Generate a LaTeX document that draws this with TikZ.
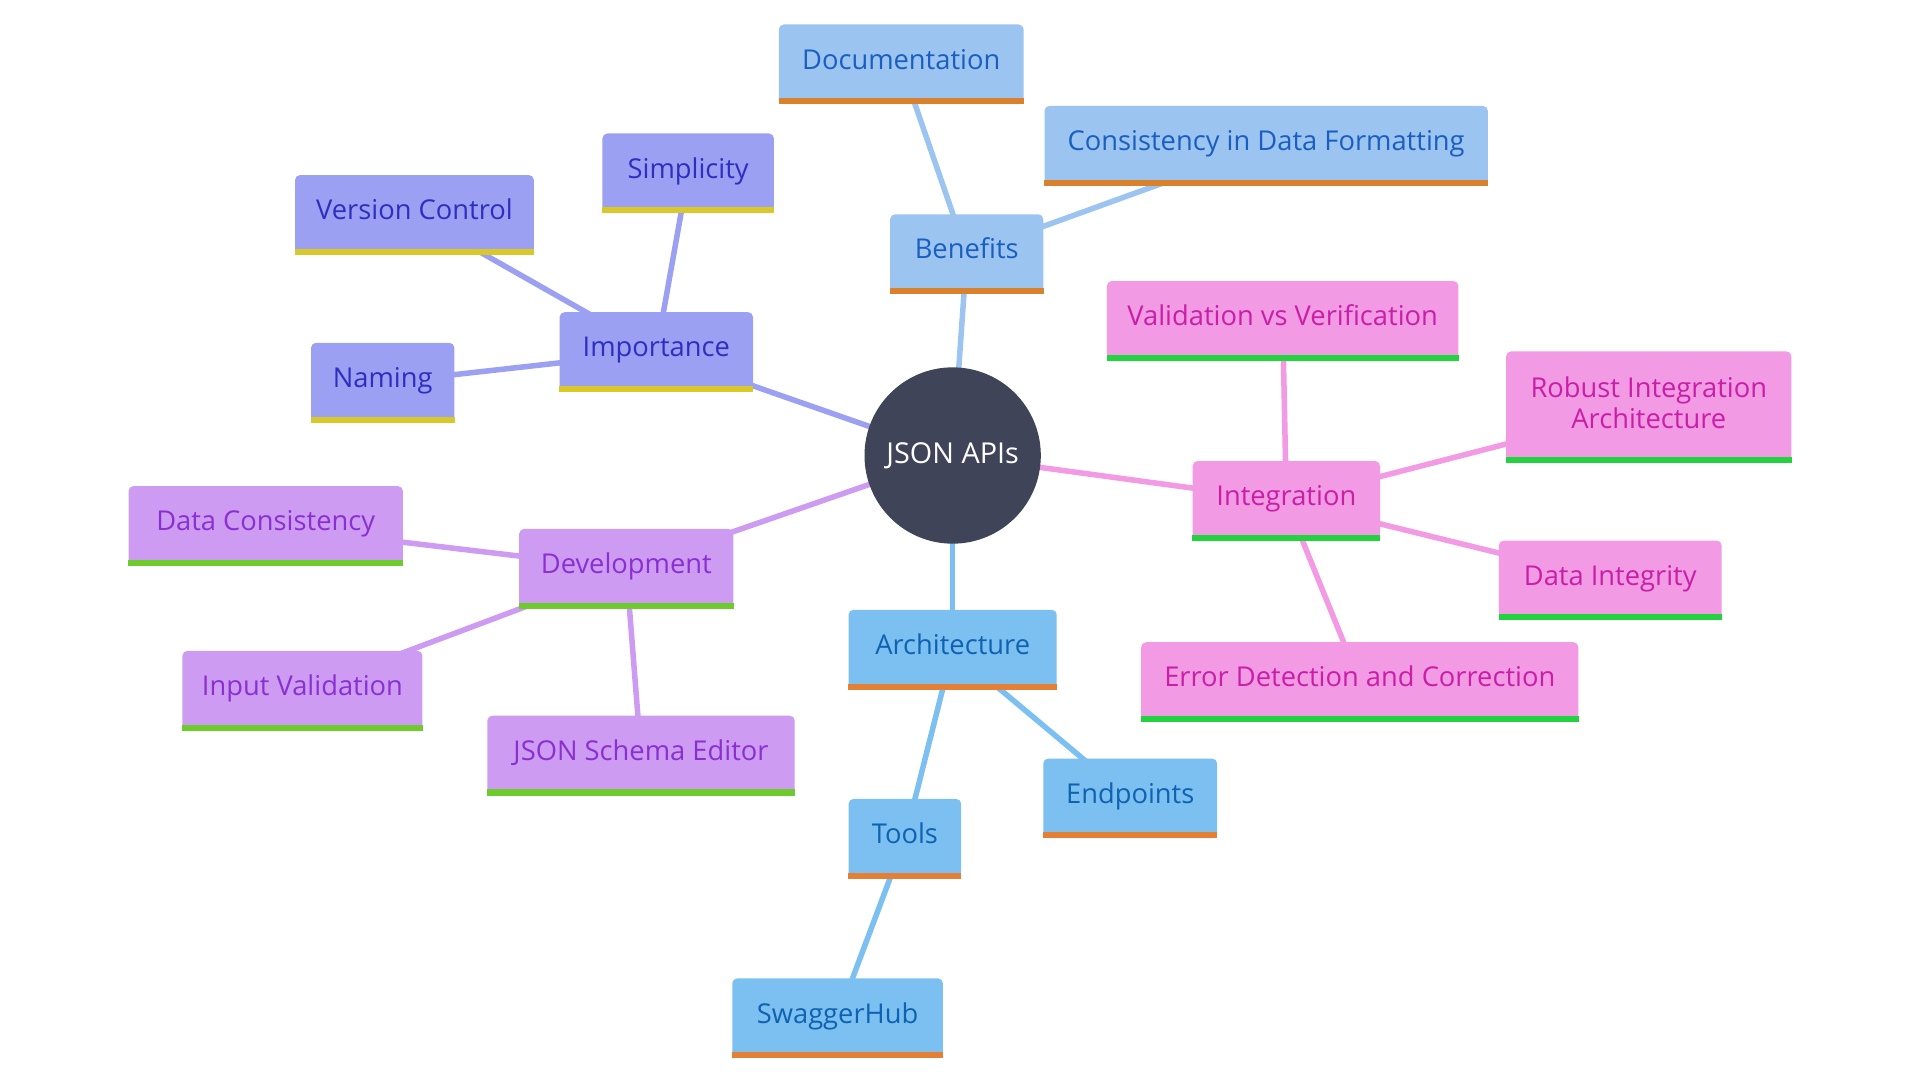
\documentclass[tikz,border=0pt]{standalone}
\usepackage{fontspec}
\setmainfont{Open Sans}
\usetikzlibrary{backgrounds}
\definecolor{cfill}{HTML}{404459}
\definecolor{benfill}{HTML}{9CC4F0}
\definecolor{bentext}{HTML}{1A5FC0}
\definecolor{benbar}{HTML}{D9822B}
\definecolor{impfill}{HTML}{9CA0F2}
\definecolor{imptext}{HTML}{2E2EBF}
\definecolor{impbar}{HTML}{D8C828}
\definecolor{devfill}{HTML}{CD9CF2}
\definecolor{devtext}{HTML}{8A2FD0}
\definecolor{devbar}{HTML}{6DCB2C}
\definecolor{archfill}{HTML}{7CC0F2}
\definecolor{archtext}{HTML}{0F62B0}
\definecolor{archbar}{HTML}{E57F33}
\definecolor{intfill}{HTML}{F29AE3}
\definecolor{inttext}{HTML}{C81FA8}
\definecolor{intbar}{HTML}{22D33F}
\newcommand\nbar[2]{\fill[#2] (#1.south west) rectangle ([yshift=5pt]#1.south east);}
\tikzset{
  box/.style={rounded corners=4pt, minimum height=65pt, inner sep=0pt, align=center,
    text height=16pt, text depth=8pt,
    font=\fontsize{22.3}{25}\selectfont},
  ben/.style={box, fill=benfill, text=bentext},
  imp/.style={box, fill=impfill, text=imptext},
  dev/.style={box, fill=devfill, text=devtext},
  arch/.style={box, fill=archfill, text=archtext},
  int/.style={box, fill=intfill, text=inttext},
  edge/.style={line width=4.5pt},
}
\begin{document}
\begin{tikzpicture}[x=1pt,y=-1pt]
\useasboundingbox (0,0) rectangle (1568,882);
\node[circle, fill=cfill, minimum size=144pt, text=white, font=\fontsize{23.5}{27}\selectfont] (c) at (778,372) {JSON APIs};

\node[ben, minimum width=125pt] (ben) at (789.5,207.5) {Benefits};
\node[ben, minimum width=200pt] (doc) at (736,52.5) {Documentation};
\node[ben, minimum width=362pt] (cons) at (1034,119) {Consistency in Data Formatting};

\node[imp, minimum width=158pt] (imp) at (536,287.5) {Importance};
\node[imp, minimum width=140pt] (simp) at (562,141.5) {Simplicity};
\node[imp, minimum width=195pt] (ver) at (338.5,175.5) {Version Control};
\node[imp, minimum width=117pt] (nam) at (312.5,312.5) {Naming};

\node[dev, minimum width=175pt] (dev) at (511.5,464.5) {Development};
\node[dev, minimum width=224pt] (dcon) at (217,429.5) {Data Consistency};
\node[dev, minimum width=196pt] (inp) at (247,564) {Input Validation};
\node[dev, minimum width=251pt] (jse) at (523.5,617) {JSON Schema Editor};

\node[arch, minimum width=170pt] (arch) at (778,530.5) {Architecture};
\node[arch, minimum width=92pt] (tools) at (739,685) {Tools};
\node[arch, minimum width=142pt] (endp) at (923,652) {Endpoints};
\node[arch, minimum width=172pt] (swag) at (684,831.5) {SwaggerHub};

\node[int, minimum width=153pt] (integ) at (1050.5,409) {Integration};
\node[int, minimum width=287pt] (vvv) at (1047.5,262) {Validation vs Verification};
\node[int, minimum width=233pt, minimum height=91pt, text height=35pt, text depth=0pt] (rob) at (1346.5,332.5) {Robust Integration\\Architecture};
\node[int, minimum width=182pt] (dint) at (1315,474) {Data Integrity};
\node[int, minimum width=357pt] (err) at (1110.5,557) {Error Detection and Correction};

\nbar{ben}{benbar}\nbar{doc}{benbar}\nbar{cons}{benbar}
\nbar{imp}{impbar}\nbar{simp}{impbar}\nbar{ver}{impbar}\nbar{nam}{impbar}
\nbar{dev}{devbar}\nbar{dcon}{devbar}\nbar{inp}{devbar}\nbar{jse}{devbar}
\nbar{arch}{archbar}\nbar{tools}{archbar}\nbar{endp}{archbar}\nbar{swag}{archbar}
\nbar{integ}{intbar}\nbar{vvv}{intbar}\nbar{rob}{intbar}\nbar{dint}{intbar}\nbar{err}{intbar}

\begin{scope}[on background layer]
\fill[white] (0,0) rectangle (1568,882);
\draw[edge, benfill] (c.center) -- (ben.center);
\draw[edge, benfill] (ben.center) -- (doc.center);
\draw[edge, benfill] (ben.center) -- (cons.center);
\draw[edge, impfill] (c.center) -- (imp.center);
\draw[edge, impfill] (imp.center) -- (simp.center);
\draw[edge, impfill] (imp.center) -- (ver.center);
\draw[edge, impfill] (imp.center) -- (nam.center);
\draw[edge, devfill] (c.center) -- (dev.center);
\draw[edge, devfill] (dev.center) -- (dcon.center);
\draw[edge, devfill] (dev.center) -- (inp.center);
\draw[edge, devfill] (dev.center) -- (jse.center);
\draw[edge, archfill] (c.center) -- (arch.center);
\draw[edge, archfill] (arch.center) -- (tools.center);
\draw[edge, archfill] (arch.center) -- (endp.center);
\draw[edge, archfill] (tools.center) -- (swag.center);
\draw[edge, intfill] (c.center) -- (integ.center);
\draw[edge, intfill] (integ.center) -- (vvv.center);
\draw[edge, intfill] (integ.center) -- (rob.center);
\draw[edge, intfill] (integ.center) -- (dint.center);
\draw[edge, intfill] (integ.center) -- (err.center);
\end{scope}
\end{tikzpicture}
\end{document}
